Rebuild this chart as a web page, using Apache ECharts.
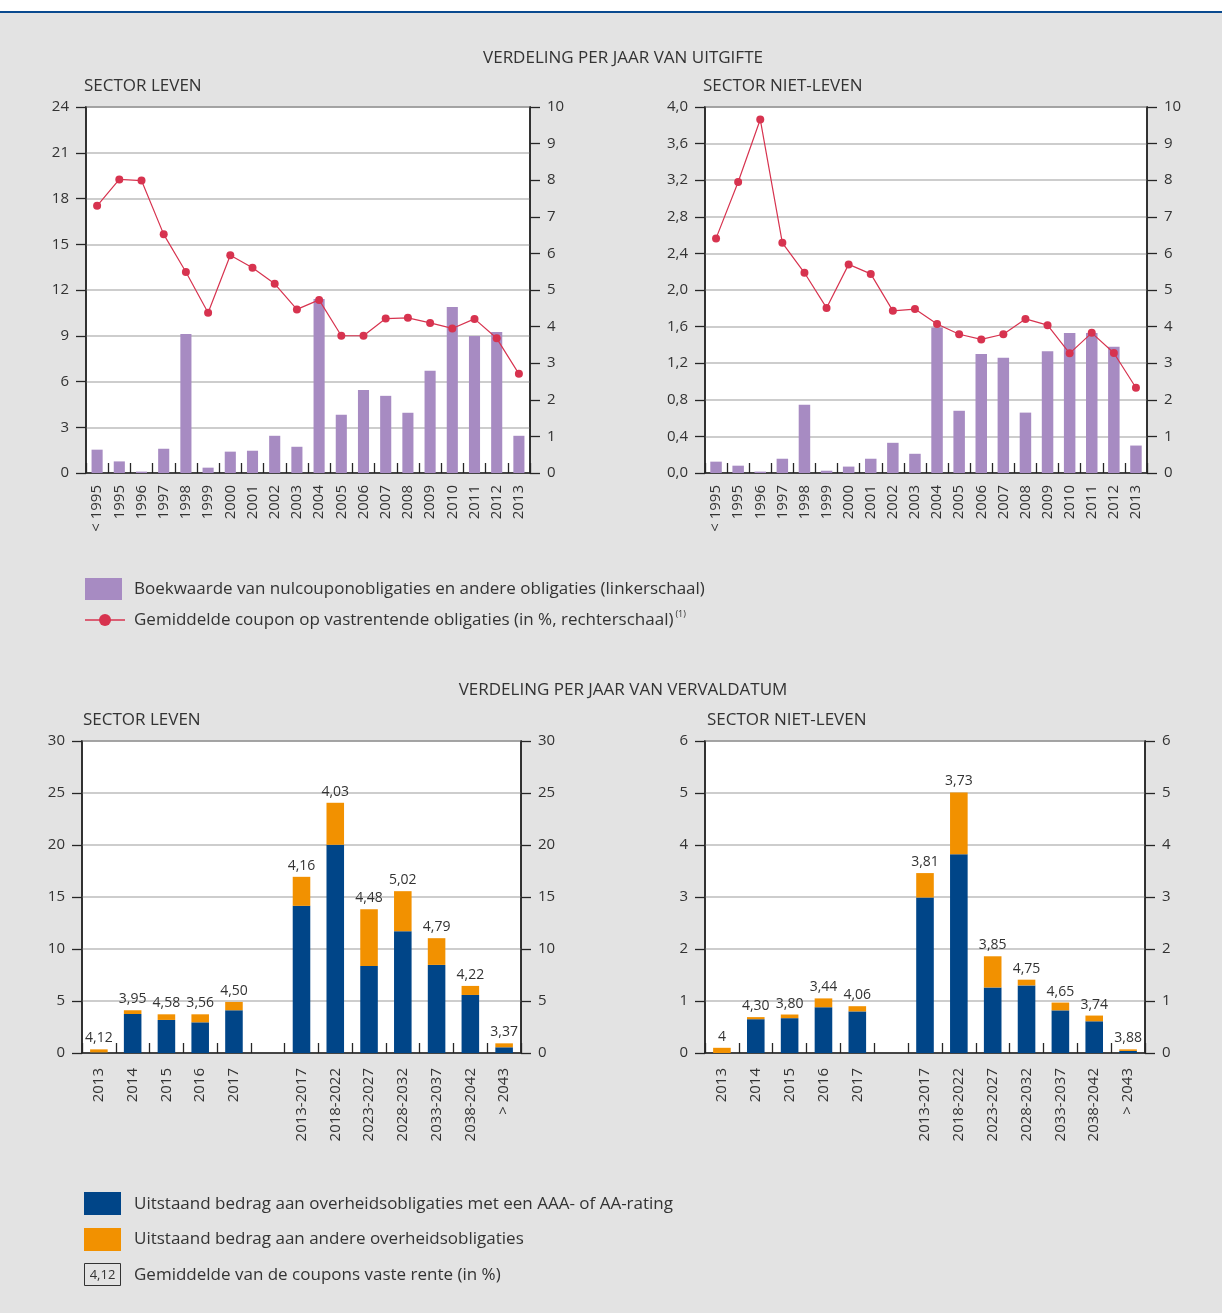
<!DOCTYPE html>
<html>
<head>
<meta charset="utf-8">
<script src="https://cdn.jsdelivr.net/npm/echarts@6/dist/echarts.min.js"></script>
<style>
  html, body { margin: 0; padding: 0; background: #e3e3e3; }
  #chart { width: 1222px; height: 1313px; }
</style>
</head>
<body>
<div id="chart"></div>
<script>
// Issue-year breakdown (top panels)
const issueYears = ['< 1995', '1995', '1996', '1997', '1998', '1999', '2000', '2001', '2002', '2003',
  '2004', '2005', '2006', '2007', '2008', '2009', '2010', '2011', '2012', '2013'];
const lifeBookValue = [1.53, 0.76, 0.09, 1.59, 9.12, 0.35, 1.40, 1.46, 2.44, 1.72,
  11.41, 3.82, 5.45, 5.06, 3.95, 6.70, 10.89, 8.99, 9.25, 2.44];
const lifeCoupon = [7.30, 8.02, 7.99, 6.52, 5.49, 4.38, 5.95, 5.61, 5.17, 4.47,
  4.73, 3.75, 3.75, 4.22, 4.24, 4.10, 3.95, 4.21, 3.68, 2.71];
const nonLifeBookValue = [0.124, 0.08, 0.015, 0.156, 0.745, 0.025, 0.07, 0.156, 0.33, 0.21,
  1.59, 0.68, 1.30, 1.26, 0.66, 1.33, 1.53, 1.53, 1.38, 0.30];
const nonLifeCoupon = [6.41, 7.95, 9.66, 6.29, 5.47, 4.51, 5.70, 5.44, 4.43, 4.48,
  4.07, 3.79, 3.65, 3.79, 4.21, 4.04, 3.27, 3.83, 3.28, 2.33];

// Maturity breakdown (bottom panels); the empty slot separates years from 5-year buckets
const maturities = ['2013', '2014', '2015', '2016', '2017', '',
  '2013-2017', '2018-2022', '2023-2027', '2028-2032', '2033-2037', '2038-2042', '> 2043'];
const lifeAAA = [0.05, 3.75, 3.18, 2.95, 4.11, null, 14.15, 20.02, 8.37, 11.71, 8.47, 5.58, 0.55];
const lifeOther = [0.30, 0.36, 0.54, 0.77, 0.80, null, 2.79, 4.04, 5.46, 3.85, 2.57, 0.87, 0.38];
const lifeCouponLabels = ['4,12', '3,95', '4,58', '3,56', '4,50', '', '4,16', '4,03', '4,48', '5,02', '4,79', '4,22', '3,37'];
const nonLifeAAA = [0, 0.65, 0.67, 0.88, 0.80, null, 2.99, 3.82, 1.26, 1.30, 0.82, 0.61, 0.04];
const nonLifeOther = [0.10, 0.04, 0.07, 0.17, 0.10, null, 0.47, 1.19, 0.60, 0.11, 0.15, 0.11, 0.03];
const nonLifeCouponLabels = ['4', '4,30', '3,80', '3,44', '4,06', '', '3,81', '3,73', '3,85', '4,75', '4,65', '3,74', '3,88'];

const FONT = '"Open Sans", "Noto Sans", sans-serif';
const TXT = '#333333';
const PURPLE = '#a78bc2';
const RED = '#d7334f';
const BLUE = '#004588';
const ORANGE = '#f29100';
const AXIS = '#262626';
const HEAD = '17px ' + FONT;

const comma = (d) => (v) => v.toFixed(d).replace('.', ',');

function grid(left, top, width, height) {
  return { left, top, width, height, show: true, backgroundColor: '#ffffff',
    borderColor: AXIS, borderWidth: 1.5, containLabel: false };
}
function catAxis(gi, data, margin) {
  return {
    type: 'category', gridIndex: gi, data,
    axisLine: { lineStyle: { color: AXIS, width: 1.5 } },
    axisTick: { show: true, inside: true, length: 10, interval: 0, lineStyle: { color: AXIS, width: 1.3 } },
    axisLabel: { interval: 0, rotate: 90, margin, color: TXT, fontSize: 15, fontFamily: FONT },
    splitLine: { show: false }
  };
}
function valAxis(gi, pos, min, max, interval, fmt, grid) {
  return {
    type: 'value', gridIndex: gi, position: pos, min, max, interval,
    axisLine: { show: true, lineStyle: { color: AXIS, width: 1.5 } },
    axisTick: { show: true, length: 10, lineStyle: { color: AXIS, width: 1.3 } },
    axisLabel: { color: TXT, fontSize: 15, fontFamily: FONT, margin: 17, formatter: fmt },
    splitLine: { show: grid, lineStyle: { color: '#bdbdbd', width: 1.5 } }
  };
}

const option = {
  animation: false,
  backgroundColor: '#e3e3e3',
  grid: [
    grid(86, 107, 444, 366),
    grid(705, 107, 442, 366),
    grid(82, 741, 439, 312),
    grid(705, 741, 440, 312)
  ],
  xAxis: [
    catAxis(0, issueYears, 12),
    catAxis(1, issueYears, 12),
    catAxis(2, maturities, 15),
    catAxis(3, maturities, 15)
  ],
  yAxis: [
    valAxis(0, 'left', 0, 24, 3, comma(0), true),
    valAxis(0, 'right', 0, 10, 1, comma(0), false),
    valAxis(1, 'left', 0, 4, 0.4, comma(1), true),
    valAxis(1, 'right', 0, 10, 1, comma(0), false),
    valAxis(2, 'left', 0, 30, 5, comma(0), true),
    valAxis(2, 'right', 0, 30, 5, comma(0), false),
    valAxis(3, 'left', 0, 6, 1, comma(0), true),
    valAxis(3, 'right', 0, 6, 1, comma(0), false)
  ],
  series: [
    { type: 'bar', xAxisIndex: 0, yAxisIndex: 0, data: lifeBookValue, barWidth: '50%',
      itemStyle: { color: PURPLE } },
    { type: 'line', xAxisIndex: 0, yAxisIndex: 1, data: lifeCoupon, symbol: 'circle', symbolSize: 8,
      lineStyle: { color: RED, width: 1.2 }, itemStyle: { color: RED } },
    { type: 'bar', xAxisIndex: 1, yAxisIndex: 2, data: nonLifeBookValue, barWidth: '52%',
      itemStyle: { color: PURPLE } },
    { type: 'line', xAxisIndex: 1, yAxisIndex: 3, data: nonLifeCoupon, symbol: 'circle', symbolSize: 8,
      lineStyle: { color: RED, width: 1.2 }, itemStyle: { color: RED } },
    { type: 'bar', xAxisIndex: 2, yAxisIndex: 4, stack: 'life', data: lifeAAA, barWidth: '52%',
      itemStyle: { color: BLUE } },
    { type: 'bar', xAxisIndex: 2, yAxisIndex: 4, stack: 'life', data: lifeOther, barWidth: '52%',
      itemStyle: { color: ORANGE },
      label: { show: true, position: 'top', distance: 4, color: TXT, fontSize: 14, fontFamily: FONT,
        formatter: (p) => lifeCouponLabels[p.dataIndex] } },
    { type: 'bar', xAxisIndex: 3, yAxisIndex: 6, stack: 'nonlife', data: nonLifeAAA, barWidth: '52%',
      itemStyle: { color: BLUE } },
    { type: 'bar', xAxisIndex: 3, yAxisIndex: 6, stack: 'nonlife', data: nonLifeOther, barWidth: '52%',
      itemStyle: { color: ORANGE },
      label: { show: true, position: 'top', distance: 4, color: TXT, fontSize: 14, fontFamily: FONT,
        formatter: (p) => nonLifeCouponLabels[p.dataIndex] } }
  ],
  graphic: [
    // page header strip
    { type: 'rect', left: 0, top: 0, shape: { width: 1222, height: 11 }, style: { fill: '#ffffff' }, silent: true },
    { type: 'rect', left: 0, top: 11, shape: { width: 1222, height: 2 }, style: { fill: '#0a4a8f' }, silent: true },

    // headings
    { type: 'text', x: 623, y: 58, style: { text: 'VERDELING PER JAAR VAN UITGIFTE', fill: TXT, font: HEAD, textAlign: 'center', textVerticalAlign: 'middle' } },
    { type: 'text', x: 84, y: 86, style: { text: 'SECTOR LEVEN', fill: TXT, font: HEAD, textVerticalAlign: 'middle' } },
    { type: 'text', x: 703, y: 86, style: { text: 'SECTOR NIET-LEVEN', fill: TXT, font: HEAD, textVerticalAlign: 'middle' } },
    { type: 'text', x: 623, y: 690, style: { text: 'VERDELING PER JAAR VAN VERVALDATUM', fill: TXT, font: HEAD, textAlign: 'center', textVerticalAlign: 'middle' } },
    { type: 'text', x: 83, y: 720, style: { text: 'SECTOR LEVEN', fill: TXT, font: HEAD, textVerticalAlign: 'middle' } },
    { type: 'text', x: 707, y: 720, style: { text: 'SECTOR NIET-LEVEN', fill: TXT, font: HEAD, textVerticalAlign: 'middle' } },

    // legend, issue-year panels
    { type: 'rect', left: 85, top: 578, shape: { width: 37, height: 22 }, style: { fill: PURPLE } },
    { type: 'text', x: 134, y: 589, style: { text: 'Boekwaarde van nulcouponobligaties en andere obligaties (linkerschaal)', fill: TXT, font: HEAD, textVerticalAlign: 'middle' } },
    { type: 'line', shape: { x1: 85, y1: 620, x2: 125, y2: 620 }, style: { stroke: RED, lineWidth: 1.5 } },
    { type: 'circle', shape: { cx: 105, cy: 620, r: 6 }, style: { fill: RED } },
    { type: 'text', x: 134, y: 620, style: {
        text: '{m|Gemiddelde coupon op vastrentende obligaties (in %, rechterschaal)}{s|(1)}',
        textVerticalAlign: 'middle',
        rich: {
          m: { fill: TXT, fontSize: 17, fontFamily: FONT },
          s: { fill: TXT, fontSize: 9, fontFamily: FONT, padding: [0, 0, 12, 2] }
        } } },

    // legend, maturity panels
    { type: 'rect', left: 84, top: 1192, shape: { width: 37, height: 23 }, style: { fill: BLUE } },
    { type: 'text', x: 134, y: 1204, style: { text: 'Uitstaand bedrag aan overheidsobligaties met een AAA- of AA-rating', fill: TXT, font: HEAD, textVerticalAlign: 'middle' } },
    { type: 'rect', left: 84, top: 1228, shape: { width: 37, height: 23 }, style: { fill: ORANGE } },
    { type: 'text', x: 134, y: 1239, style: { text: 'Uitstaand bedrag aan andere overheidsobligaties', fill: TXT, font: HEAD, textVerticalAlign: 'middle' } },
    { type: 'rect', shape: { x: 84.5, y: 1263.5, width: 36, height: 22 }, style: { fill: 'none', stroke: '#333', lineWidth: 1 } },
    { type: 'text', x: 102.5, y: 1275, style: { text: '4,12', fill: TXT, font: '13px ' + FONT, textAlign: 'center', textVerticalAlign: 'middle' } },
    { type: 'text', x: 134, y: 1275, style: { text: 'Gemiddelde van de coupons vaste rente (in %)', fill: TXT, font: HEAD, textVerticalAlign: 'middle' } }
  ]
};

const chart = echarts.init(document.getElementById('chart'), null, { renderer: 'canvas' });
chart.setOption(option);
</script>
</body>
</html>
